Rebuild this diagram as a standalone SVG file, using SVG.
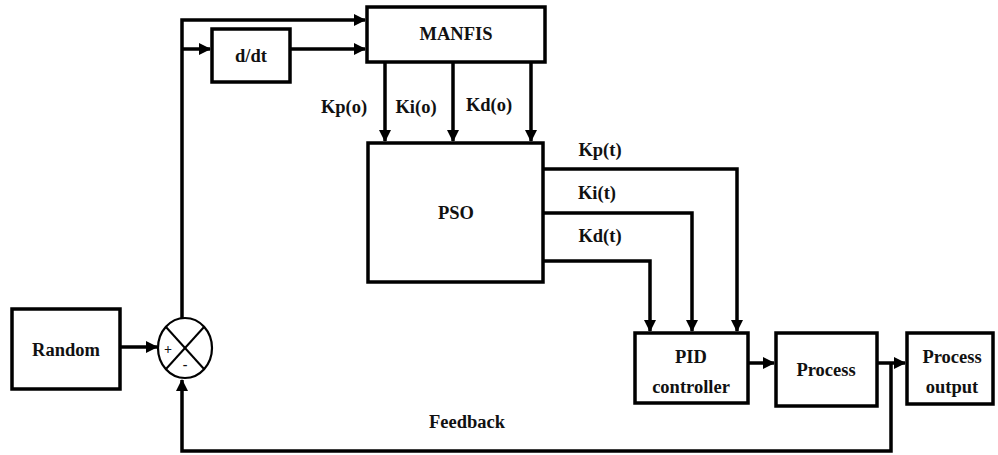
<svg xmlns="http://www.w3.org/2000/svg" width="998" height="455" viewBox="0 0 998 455" font-family="Liberation Serif, DejaVu Serif, Times New Roman, serif">
<style>
.box{fill:#fff;stroke:#000;stroke-width:3.5}
.ln{fill:none;stroke:#000;stroke-width:3.5}
text{font-weight:bold;font-size:18.5px;fill:#111;text-anchor:middle;dominant-baseline:central}
</style>
<defs>
<marker id="ah" markerUnits="userSpaceOnUse" markerWidth="12" markerHeight="12" viewBox="0 0 12 12" refX="11" refY="6" orient="auto">
<path d="M0,0 L12,6 L0,12 Z" fill="#000"/>
</marker>
</defs>
<rect width="998" height="455" fill="#fff"/>
<g id="connectors">
<polyline class="ln" points="182,318 182,20 365,20" marker-end="url(#ah)"/>
<line class="ln" x1="182" y1="49" x2="210" y2="49" marker-end="url(#ah)"/>
<line class="ln" x1="290" y1="49" x2="365" y2="49" marker-end="url(#ah)"/>
<line class="ln" x1="385" y1="62" x2="385" y2="141" marker-end="url(#ah)"/>
<line class="ln" x1="453" y1="62" x2="453" y2="141" marker-end="url(#ah)"/>
<line class="ln" x1="531" y1="62" x2="531" y2="141" marker-end="url(#ah)"/>
<polyline class="ln" points="543,169 737,169 737,331" marker-end="url(#ah)"/>
<polyline class="ln" points="543,213 692,213 692,331" marker-end="url(#ah)"/>
<polyline class="ln" points="543,261 650,261 650,331" marker-end="url(#ah)"/>
<line class="ln" x1="120" y1="347" x2="157" y2="347" marker-end="url(#ah)"/>
<line class="ln" x1="748" y1="363" x2="774" y2="363" marker-end="url(#ah)"/>
<line class="ln" x1="877" y1="363" x2="905" y2="363" marker-end="url(#ah)"/>
<polyline class="ln" points="891,363 891,451 182,451 182,380" marker-end="url(#ah)"/>
</g>
<g id="manfis">
<rect class="box" x="367" y="7" width="178" height="55"/>
<text x="456" y="34">MANFIS</text>
</g>
<g id="ddt">
<rect class="box" x="212" y="29" width="78" height="53"/>
<text x="251" y="56">d/dt</text>
</g>
<g id="pso">
<rect class="box" x="368" y="143" width="175" height="139"/>
<text x="456" y="213">PSO</text>
</g>
<g id="labels">
<text x="344" y="107">Kp(o)</text>
<text x="416" y="107">Ki(o)</text>
<text x="489" y="105">Kd(o)</text>
<text x="600" y="150">Kp(t)</text>
<text x="597" y="193">Ki(t)</text>
<text x="600" y="236">Kd(t)</text>
<text x="467" y="422">Feedback</text>
</g>
<g id="random">
<rect class="box" x="12" y="309" width="108" height="80"/>
<text x="66" y="350">Random</text>
</g>
<g id="sum">
<ellipse cx="185" cy="348" rx="27" ry="30" fill="#fff" stroke="#000" stroke-width="2.2"/>
<line x1="166" y1="327" x2="204" y2="369" stroke="#000" stroke-width="2"/>
<line x1="204" y1="327" x2="166" y2="369" stroke="#000" stroke-width="2"/>
<text x="168" y="349" style="font-size:14px">+</text>
<text x="185" y="364" style="font-size:14px">-</text>
</g>
<g id="pid">
<rect class="box" x="635" y="333" width="113" height="70"/>
<text x="691" y="357">PID</text>
<text x="691" y="387">controller</text>
</g>
<g id="process">
<rect class="box" x="776" y="333" width="101" height="73"/>
<text x="826" y="370">Process</text>
</g>
<g id="output">
<rect class="box" x="907" y="333" width="86" height="71"/>
<text x="952" y="357">Process</text>
<text x="952" y="387">output</text>
</g>
</svg>
